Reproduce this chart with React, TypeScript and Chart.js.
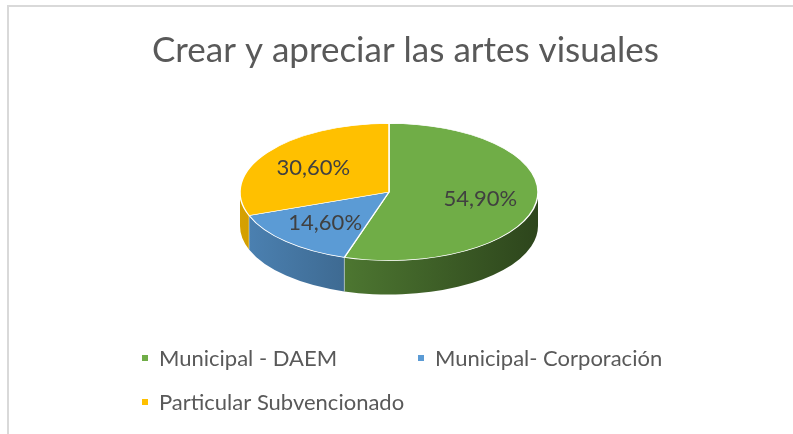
import { useEffect, useRef } from "react";
import { Chart, registerables } from "chart.js";

Chart.register(...registerables);

// ---- data ----
const titleText = "Crear y apreciar las artes visuales";
const categories = ["Municipal - DAEM", "Municipal- Corporación", "Particular Subvencionado"];
const shares = [54.9, 14.6, 30.6];
const sliceColors = ["#70AD47", "#5B9BD5", "#FFC000"];

// ---- styling / layout ----
const FONT = "Lato, 'Open Sans', 'Noto Sans', sans-serif";
const TEXT_GRAY = "#595959";
const LABEL_GRAY = "#404040";
const TILT = 0.46; // vertical squash of the pie (3D view angle)
const DEPTH = 34; // thickness of the pie side in px
const PIE_SHIFT_X = -16.5;
const PIE_RADIUS = 149;
const LABEL_RADIUS = 0.62;
const LEGEND_LEFT = 142;
const LEGEND_COL = 276;
const LEGEND_ROW = 44;
const LEGEND_TOP = 358;
const LEGEND_COLS = 2;
const LEGEND_BOX = 6;
const LEGEND_FONT = 22;
const LABEL_FONT = 22;

const fmt = (v: number) => v.toFixed(2).replace(".", ",") + "%";

function shade(hex: string, f: number) {
  const n = parseInt(hex.slice(1), 16);
  const r = Math.round(((n >> 16) & 255) * f);
  const g = Math.round(((n >> 8) & 255) * f);
  const b = Math.round((n & 255) * f);
  return `rgb(${r},${g},${b})`;
}

function frontRanges(s: number, e: number): [number, number][] {
  const out: [number, number][] = [];
  for (const base of [-2 * Math.PI, 0, 2 * Math.PI]) {
    const lo = Math.max(s, base);
    const hi = Math.min(e, base + Math.PI);
    if (hi > lo) out.push([lo, hi]);
  }
  return out;
}

function isFront(a: number) {
  const t = ((a % (2 * Math.PI)) + 2 * Math.PI) % (2 * Math.PI);
  return t > 0.001 && t < Math.PI - 0.001;
}

const pie3d = {
  id: "pie3d",
  beforeDatasetsDraw(chart: any) {
    const meta = chart.getDatasetMeta(0);
    if (!meta.data.length) return;
    const a0: any = meta.data[0];
    const cx = a0.x;
    const cy = a0.y;
    const r = a0.outerRadius;
    const ctx: CanvasRenderingContext2D = chart.ctx;
    ctx.save();
    ctx.translate(cx + PIE_SHIFT_X, cy);
    ctx.scale(1, TILT);
    ctx.translate(-cx, -cy);
    const d = DEPTH / TILT;
    meta.data.forEach((el: any, i: number) => {
      const col = chart.data.datasets[0].backgroundColor[i];
      frontRanges(el.startAngle, el.endAngle).forEach(([s, e]) => {
        const g = ctx.createLinearGradient(cx - r, 0, cx + r, 0);
        g.addColorStop(0, shade(col, 0.84));
        g.addColorStop(1, shade(col, 0.4));
        ctx.beginPath();
        ctx.arc(cx, cy, r, s, e);
        ctx.arc(cx, cy + d, r, e, s, true);
        ctx.closePath();
        ctx.fillStyle = g;
        ctx.fill();
      });
    });
    ctx.strokeStyle = "rgba(255,255,255,0.55)";
    ctx.lineWidth = 1;
    meta.data.forEach((el: any) => {
      if (isFront(el.startAngle)) {
        const x = cx + r * Math.cos(el.startAngle);
        const y = cy + r * Math.sin(el.startAngle);
        ctx.beginPath();
        ctx.moveTo(x, y);
        ctx.lineTo(x, y + d);
        ctx.stroke();
      }
    });
  },
  afterDatasetsDraw(chart: any) {
    const meta = chart.getDatasetMeta(0);
    if (!meta.data.length) return;
    const ctx: CanvasRenderingContext2D = chart.ctx;
    ctx.restore();
    const values = chart.data.datasets[0].data;
    ctx.save();
    ctx.font = `${LABEL_FONT}px ${FONT}`;
    ctx.fillStyle = LABEL_GRAY;
    ctx.textAlign = "center";
    ctx.textBaseline = "middle";
    meta.data.forEach((el: any, i: number) => {
      const mid = (el.startAngle + el.endAngle) / 2;
      const rr = el.outerRadius * LABEL_RADIUS;
      const x = el.x + PIE_SHIFT_X + rr * Math.cos(mid);
      const y = el.y + rr * Math.sin(mid) * TILT;
      ctx.fillText(fmt(values[i]), x, y);
    });
    ctx.restore();
  },
};

const gridLegend = {
  id: "gridLegend",
  afterDraw(chart: any) {
    const ctx: CanvasRenderingContext2D = chart.ctx;
    const labels: string[] = chart.data.labels;
    const colors: string[] = chart.data.datasets[0].backgroundColor;
    ctx.save();
    ctx.font = `${LEGEND_FONT}px ${FONT}`;
    ctx.textBaseline = "middle";
    ctx.textAlign = "left";
    labels.forEach((lab, i) => {
      const col = i % LEGEND_COLS;
      const row = Math.floor(i / LEGEND_COLS);
      const x = LEGEND_LEFT + col * LEGEND_COL;
      const y = LEGEND_TOP + row * LEGEND_ROW;
      ctx.fillStyle = colors[i];
      ctx.fillRect(x, y - LEGEND_BOX / 2, LEGEND_BOX, LEGEND_BOX);
      ctx.fillStyle = TEXT_GRAY;
      ctx.fillText(lab, x + LEGEND_BOX + 11, y + 1);
    });
    ctx.restore();
  },
};

export default function App() {
  const ref = useRef<HTMLCanvasElement | null>(null);

  useEffect(() => {
    if (!ref.current) return;
    const chart = new Chart(ref.current, {
      type: "pie",
      data: {
        labels: categories,
        datasets: [
          {
            data: shares,
            backgroundColor: sliceColors,
            borderColor: "#ffffff",
            borderWidth: 1.5,
            radius: PIE_RADIUS,
            clip: false,
            hoverOffset: 0,
          } as any,
        ],
      },
      options: {
        animation: false,
        responsive: false,
        events: [],
        layout: { padding: { left: 18, right: 0, top: 0, bottom: 132 } },
        plugins: {
          legend: { display: false },
          tooltip: { enabled: false },
          title: {
            display: true,
            text: titleText,
            color: TEXT_GRAY,
            font: { family: FONT, size: 35, weight: "normal" },
            padding: { top: 30, bottom: 10 },
          },
        },
      },
      plugins: [pie3d, gridLegend],
    });
    return () => chart.destroy();
  }, []);

  return (
    <div
      style={{
        position: "fixed",
        left: 0,
        top: 0,
        width: 793,
        height: 434,
        overflow: "hidden",
        background: "#ffffff",
      }}
    >
      <div
        style={{
          position: "absolute",
          left: 7,
          top: 5,
          width: 900,
          height: 500,
          borderLeft: "2px solid #D9D9D9",
          borderTop: "2px solid #D9D9D9",
        }}
      />
      <canvas
        ref={ref}
        width={793}
        height={434}
        style={{ position: "absolute", left: 0, top: 0 }}
      />
    </div>
  );
}
